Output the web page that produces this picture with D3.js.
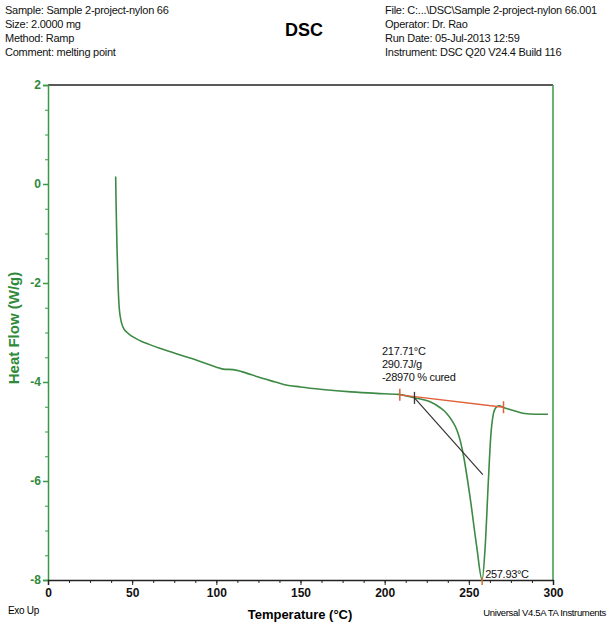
<!DOCTYPE html>
<html lang="en">
<head>
    <meta charset="utf-8" />
    <style>
        body {margin:0; background:#fff;}
        svg {font-family: "Liberation Sans Narrow", "Liberation Sans", Arial, sans-serif;}
        .hdr {font-size: 11px; fill: #111; letter-spacing: -0.25px;}
        .axis-y text {fill: #2f8a3a; font-weight: bold; font-size: 12px;}
        .axis-y path, .axis-y line {stroke: #3a9a45;}
        .axis-x text {fill: #111; font-weight: bold; font-size: 12px;}
        .axis-x path, .axis-x line {stroke: #222;}
        .ann {font-size: 11px; fill: #111; letter-spacing: -0.3px;}
    </style>
    <script src="https://d3js.org/d3.v7.min.js"></script>
</head>
<body>
    <svg></svg>
</body>
<script>
    var width = 610,
        height = 628;

    // heat flow trace
    var temperature = [40.2, 40.5, 41, 41.6, 42.3, 43.5, 45, 47, 50, 55, 60, 70, 80, 90, 100, 104, 110, 115,
                       125, 135, 140, 150, 163, 180, 195, 208, 217.7, 227, 233, 237, 240, 243, 245, 247,
                       250.7, 254.7, 257.9, 259.7, 261.6, 263, 264.6, 266, 268, 271, 276, 282, 290, 297];
    var heatFlow = [0.15, -0.5, -1.3, -2.0, -2.5, -2.78, -2.92, -3.0, -3.08, -3.17, -3.24, -3.36, -3.47, -3.58,
                    -3.70, -3.74, -3.75, -3.79, -3.90, -4.00, -4.05, -4.10, -4.15, -4.20, -4.23, -4.25, -4.32,
                    -4.40, -4.52, -4.64, -4.78, -4.98, -5.2, -5.52, -6.32, -7.33, -8.0, -7.33, -6.0, -5.11,
                    -4.64, -4.52, -4.48, -4.52, -4.57, -4.63, -4.65, -4.65];

    // integration baseline, onset tangent, peak
    var baseline = [[209, -4.26], [270.6, -4.51]];
    var tangent = [[217.71, -4.32], [258.3, -5.87]];
    var onset = 217.71, peak = 257.93;
    var annLines = ["217.71°C", "290.7J/g", "-28970 % cured"];

    var xTicks = [0, 50, 100, 150, 200, 250, 300];
    var yTicks = [-8, -6, -4, -2, 0, 2];

    var headerLeft = ["Sample: Sample 2-project-nylon 66", "Size:  2.0000 mg", "Method: Ramp", "Comment: melting point"];
    var headerRight = ["File: C:...\\DSC\\Sample 2-project-nylon 66.001", "Operator: Dr. Rao", "Run Date: 05-Jul-2013 12:59", "Instrument: DSC Q20 V24.4 Build 116"];

    var svg = d3.select("svg")
        .attr("width", width)
        .attr("height", height)

    var x = d3.scaleLinear().domain([0, 300]).range([48, 553]);
    var y = d3.scaleLinear().domain([-8, 2]).range([580, 85]);

    // header
    svg.append("g").selectAll("text")
        .data(headerLeft)
      .enter().append("text")
        .attr("class", "hdr")
        .attr("x", 5)
        .attr("y", function(d, i) {return 14 + i * 14})
        .text(function(d) {return d})

    svg.append("g").selectAll("text")
        .data(headerRight)
      .enter().append("text")
        .attr("class", "hdr")
        .attr("x", 385)
        .attr("y", function(d, i) {return 14 + i * 14})
        .text(function(d) {return d})

    svg.append("text")
        .attr("x", 304).attr("y", 36)
        .attr("text-anchor", "middle")
        .style("font-size", "18px").style("font-weight", "bold")
        .text("DSC")

    // frame
    svg.append("line")
        .attr("x1", x(0)).attr("x2", x(300)).attr("y1", y(2)).attr("y2", y(2))
        .style("stroke", "#222").style("stroke-width", 1.5)
    svg.append("line")
        .attr("x1", x(300)).attr("x2", x(300)).attr("y1", y(2)).attr("y2", y(-8))
        .style("stroke", "#3a9a45").style("stroke-width", 1.5)

    // axes
    svg.append("g").attr("class", "axis-y")
        .attr("transform", "translate(" + x(0) + ",0)")
        .call(d3.axisLeft(y).tickValues(d3.range(-8, 2.01, 0.5)).tickSize(3).tickFormat(""))
    svg.append("g").attr("class", "axis-y")
        .attr("transform", "translate(" + x(0) + ",0)")
        .call(d3.axisLeft(y).tickValues(yTicks).tickSize(5).tickPadding(2).tickFormat(function(d) {return String(d)}))
        .selectAll("path, line").style("stroke-width", 1.5)

    svg.append("g").attr("class", "axis-x")
        .attr("transform", "translate(0," + y(-8) + ")")
        .call(d3.axisBottom(x).tickValues(d3.range(0, 300.1, 12.5)).tickSize(3).tickFormat(""))
    svg.append("g").attr("class", "axis-x")
        .attr("transform", "translate(0," + y(-8) + ")")
        .call(d3.axisBottom(x).tickValues(xTicks).tickSize(5).tickPadding(3).tickFormat(function(d) {return String(d)}))
        .select("path").style("stroke-width", 1.5)

    svg.append("text")
        .attr("transform", "translate(19," + 328 + ") rotate(-90)")
        .attr("text-anchor", "middle")
        .style("font-size", "15px").style("font-weight", "bold").style("fill", "#2f8a3a")
        .text("Heat Flow (W/g)")

    svg.append("text")
        .attr("x", 300).attr("y", 619)
        .attr("text-anchor", "middle")
        .style("font-size", "13px").style("font-weight", "bold")
        .text("Temperature (°C)")

    svg.append("text")
        .attr("x", 8).attr("y", 614)
        .style("font-size", "10px").style("letter-spacing", "-0.3px")
        .text("Exo Up")

    svg.append("text")
        .attr("x", 606).attr("y", 616)
        .attr("text-anchor", "end")
        .style("font-size", "9.5px").style("letter-spacing", "-0.35px")
        .text("Universal V4.5A TA Instruments")

    // trace
    var line = d3.line()
        .x(function(d) {return x(d[0])})
        .y(function(d) {return y(d[1])})

    svg.append("path")
        .datum(d3.zip(temperature, heatFlow))
        .attr("d", line.curve(d3.curveMonotoneX))
        .style("fill", "none").style("stroke", "#3d8a45").style("stroke-width", 1.6)

    // analysis lines
    svg.append("path")
        .datum(baseline)
        .attr("d", line.curve(d3.curveLinear))
        .style("fill", "none").style("stroke", "#e0603a").style("stroke-width", 1.5)

    svg.append("path")
        .datum(tangent)
        .attr("d", line.curve(d3.curveLinear))
        .style("fill", "none").style("stroke", "#333").style("stroke-width", 1.2)

    svg.append("g").selectAll("line")
        .data(baseline)
      .enter().append("line")
        .attr("x1", function(d) {return x(d[0])}).attr("x2", function(d) {return x(d[0])})
        .attr("y1", function(d) {return y(d[1]) - 6}).attr("y2", function(d) {return y(d[1]) + 6})
        .style("stroke", "#e0603a").style("stroke-width", 1.5)

    svg.append("line")
        .attr("x1", x(onset)).attr("x2", x(onset))
        .attr("y1", y(tangent[0][1]) - 6).attr("y2", y(tangent[0][1]) + 6)
        .style("stroke", "#333").style("stroke-width", 1.3)

    svg.append("line")
        .attr("x1", x(peak)).attr("x2", x(peak))
        .attr("y1", y(-8) - 3).attr("y2", y(-8) + 5)
        .style("stroke", "#d07030").style("stroke-width", 1.5)

    svg.append("g").selectAll("text")
        .data(annLines)
      .enter().append("text")
        .attr("class", "ann")
        .attr("x", 382)
        .attr("y", function(d, i) {return 355 + i * 13})
        .text(function(d) {return d})

    svg.append("text")
        .attr("class", "ann")
        .attr("x", x(peak) + 3).attr("y", y(-8) - 2)
        .text(peak.toFixed(2) + "°C")
</script>
</html>
